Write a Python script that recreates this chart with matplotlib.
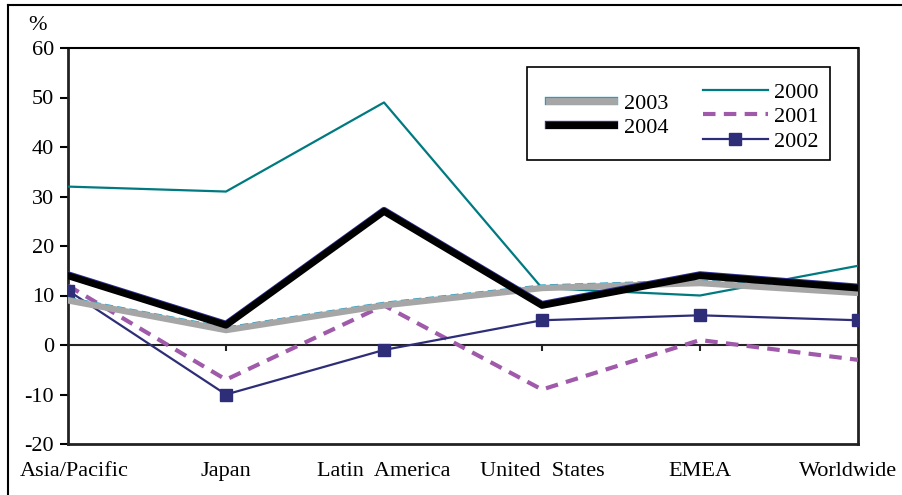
import numpy as np
import matplotlib.pyplot as plt
import matplotlib.transforms as mtransforms
from matplotlib.lines import Line2D

plt.rcParams['font.family'] = ['Liberation Serif', 'DejaVu Serif']

# Data
regions = ['Asia/Pacific', 'Japan', 'Latin  America', 'United  States', 'EMEA', 'Worldwide']
y2000 = [32, 31, 49, 11.5, 10, 16]
y2001 = [12, -7, 8, -9, 1, -3]
y2002 = [11, -10, -1, 5, 6, 5]
y2003 = [9, 3, 8, 11.5, 12.5, 10.5]
y2004 = [14, 4, 27, 8, 14, 11.5]
yticks = [-20, -10, 0, 10, 20, 30, 40, 50, 60]

x = np.arange(len(regions))
FS = 16

fig = plt.figure(figsize=(9.03, 4.95), dpi=100)
ax = fig.add_axes([68 / 903, 1 - 444 / 495, 790 / 903, 396 / 495])

# outer frame (top and left edges visible)
fig.add_artist(Line2D([8 / 903, 902 / 903], [1 - 5 / 495, 1 - 5 / 495],
                      transform=fig.transFigure, color='black', lw=1.5))
fig.add_artist(Line2D([8 / 903, 8 / 903], [0, 1 - 5 / 495],
                      transform=fig.transFigure, color='black', lw=1.5))

up = mtransforms.offset_copy(ax.transData, fig=fig, x=0, y=3, units='dots')
under = mtransforms.offset_copy(ax.transData, fig=fig, x=0, y=1, units='dots')

ax.axhline(0, color='#222222', lw=1.5, zorder=1)
ax.vlines(x[1:-1], -1.3, 0, color='#222222', lw=1.5, zorder=1)

ax.plot(x, y2000, color='#007a80', lw=1.6, zorder=3)
ax.plot(x, y2001, color='#a05aaa', lw=3, ls=(0, (3, 2)), zorder=3)
ax.plot(x, y2002, color='#2e2e78', lw=1.6, marker='s', ms=9, zorder=3)
ax.plot(x, y2003, color='#1aa0cc', lw=1.0, ls=(0, (6, 3)), transform=up, zorder=4)
ax.plot(x, y2003, color='#a6a6a6', lw=4.5, zorder=4)
ax.plot(x, y2004, color='#2e2e90', lw=5, transform=under, zorder=5)
ax.plot(x, y2004, color='black', lw=5, zorder=5)

ax.set_xlim(0, 5)
ax.set_ylim(-20, 60)
ax.set_yticks(yticks)
ax.set_yticklabels([str(v) for v in yticks], fontsize=FS)
ax.tick_params(axis='y', direction='out', length=6, width=1.5, pad=4)
ax.set_xticks([])
for s in ['left', 'bottom', 'right']:
    ax.spines[s].set_linewidth(2)
    ax.spines[s].set_color('#222222')
ax.spines['top'].set_linewidth(1.5)

for i, name in enumerate(regions):
    xi = i
    if i == 0:
        xi = i + 0.04
    if i == len(regions) - 1:
        xi = i - 0.06
    ax.text(xi, -0.07, name, transform=ax.get_xaxis_transform(),
            ha='center', va='center', fontsize=FS)

fig.text(38 / 903, 1 - 25 / 495, '%', ha='center', va='center', fontsize=FS)

# legend: two groups inside one frame
h2003 = (Line2D([], [], color='#1aa0cc', lw=6), Line2D([], [], color='#a6a6a6', lw=5))
h2004 = (Line2D([], [], color='#2e2e90', lw=6), Line2D([], [], color='black', lw=5))
leg1 = ax.legend([h2003, h2004], ['2003', '2004'], loc='upper left',
                 bbox_to_anchor=(538 / 903, 1 - 82 / 495), bbox_transform=fig.transFigure,
                 frameon=False, fontsize=FS, handlelength=2.9, handletextpad=0.45,
                 labelspacing=0.15, borderpad=0)
ax.add_artist(leg1)
h2000 = Line2D([], [], color='#007a80', lw=1.6)
h2001 = Line2D([], [], color='#a05aaa', lw=3, ls=(0, (3, 2)))
h2002 = Line2D([], [], color='#2e2e78', lw=1.6, marker='s', ms=8)
ax.legend([h2000, h2001, h2002], ['2000', '2001', '2002'], loc='upper left',
          bbox_to_anchor=(692 / 903, 1 - 71 / 495), bbox_transform=fig.transFigure,
          frameon=False, fontsize=FS, handlelength=2.9, handletextpad=0.3,
          labelspacing=0.18, borderpad=0)
fig.add_artist(plt.Rectangle((527 / 903, 1 - 160 / 495), 303 / 903, 93 / 495,
                             transform=fig.transFigure, fill=False,
                             edgecolor='black', lw=1.2, zorder=10))

fig.savefig('out.png', dpi=100)
